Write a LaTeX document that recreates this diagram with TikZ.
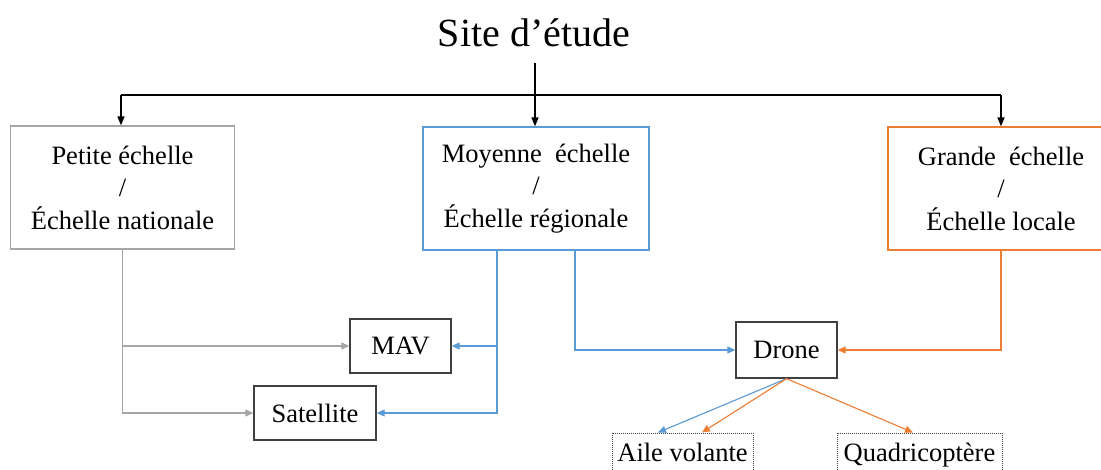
\documentclass[tikz,border=0pt]{standalone}
\usepackage{fontspec}
\setmainfont{Liberation Serif}
\usetikzlibrary{arrows.meta}
\definecolor{cgray}{HTML}{A6A6A6}
\definecolor{cblue}{HTML}{5B9BD5}
\definecolor{corange}{HTML}{ED7D31}
\definecolor{cdark}{HTML}{404040}
\tikzset{
  scalebox/.style={draw, line width=1.2pt, inner sep=0pt, align=center,
    font=\fontsize{26.5}{32.5}\selectfont, minimum width=224pt, minimum height=123pt},
  itembox/.style={draw=cdark, line width=1.3pt, inner sep=0pt,
    font=\fontsize{26.5}{30}\selectfont, minimum height=55pt},
  leafbox/.style={draw=cdark, densely dotted, line width=1pt, inner sep=0pt,
    font=\fontsize{26.5}{30}\selectfont, minimum height=42pt,
    text height=19pt, text depth=4pt},
  mainline/.style={black, line width=1.6pt},
  tip/.style={-{Triangle[length=9pt,width=7pt]}},
  ctip/.style={-{Triangle[length=8pt,width=7pt]}},
  grayline/.style={cgray, line width=1.1pt, ctip},
  blueline/.style={cblue, line width=1.1pt, ctip},
  orangeline/.style={corange, line width=1.1pt, ctip},
}
\begin{document}
\begin{tikzpicture}[x=1pt,y=-1pt]
\useasboundingbox[fill=white] (0,0) rectangle (1101,470);

\node (title) at (534,33) {\fontsize{40}{42}\selectfont Site d’étude};

\node[scalebox, draw=cgray] (box1) at (122.5,187.5) {Petite échelle\\/\\Échelle nationale};
\node[scalebox, draw=cblue, minimum width=226pt] (box2) at (536,188.5) {Moyenne \ échelle\\/\\Échelle régionale};
\node[scalebox, draw=corange, minimum width=226pt] (box3) at (1001,188.5) {Grande \ échelle\\/\\Échelle locale};

\node[itembox, minimum width=101pt, minimum height=54pt] (mav) at (400.5,346) {MAV};
\node[itembox, minimum width=122pt, minimum height=54pt] (sat) at (315,413) {Satellite};
\node[itembox, minimum width=101pt, minimum height=56pt] (drone) at (786.5,350) {Drone};

\node[leafbox, minimum width=141pt] (aile) at (682.5,454) {Aile volante};
\node[leafbox, minimum width=165pt] (quad) at (919.5,454) {Quadricoptère};

% top connectors
\coordinate (top) at (535,63);
\coordinate (hl) at (121,95);
\coordinate (hr) at (1001,95);
\draw[mainline, line width=2.2pt] (hl) -- (hr);
\draw[mainline, tip] (top) -- (top |- box2.north);
\draw[mainline, tip] (hl) -- (hl |- box1.north);
\draw[mainline, tip] (hr) -- (box3.north);

% gray
\draw[grayline] (box1.south) |- (sat.west);
\draw[grayline] (box1.south |- mav.west) -- (mav.west);

% blue
\coordinate (b2l) at ([xshift=-39pt]box2.south);
\coordinate (b2r) at ([xshift=39pt]box2.south);
\draw[blueline] (b2l) |- (sat.east);
\draw[blueline] (b2l |- mav.east) -- (mav.east);
\draw[blueline] (b2r) |- (drone.west);

% orange
\draw[orangeline] (box3.south) |- (drone.east);

% drone children
\draw[blueline] (drone.south) -- ([xshift=-24.5pt]aile.north);
\draw[orangeline] (drone.south) -- ([xshift=19.5pt]aile.north);
\draw[orangeline] (drone.south) -- ([xshift=-6.5pt]quad.north);
\end{tikzpicture}
\end{document}
